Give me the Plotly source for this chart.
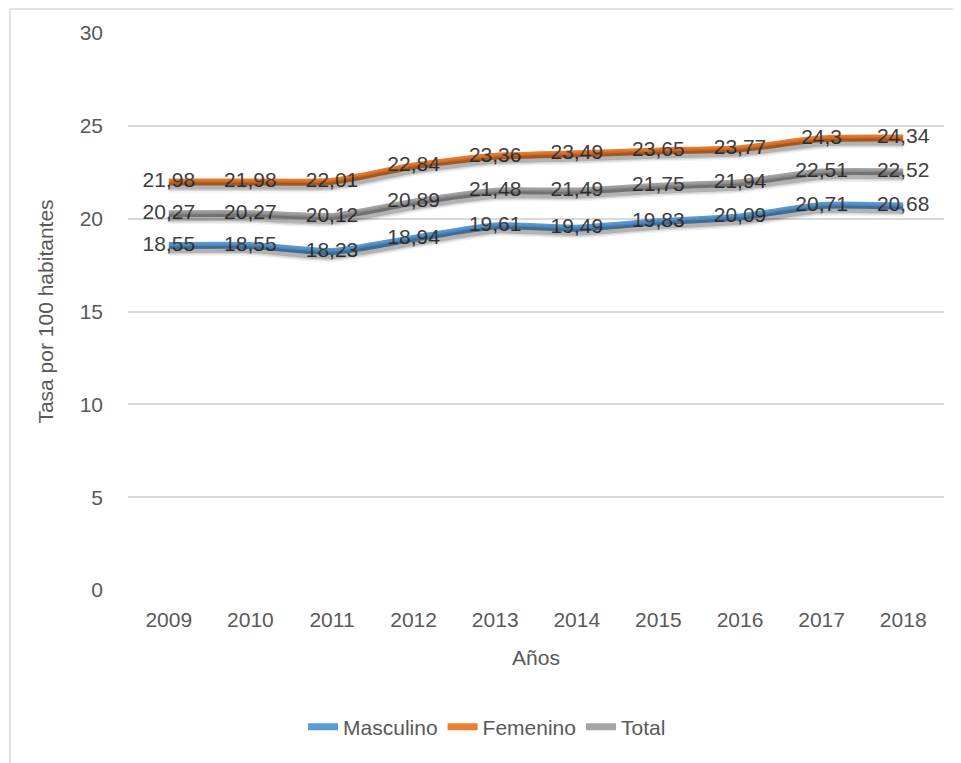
import plotly.graph_objects as go

years = ['2009', '2010', '2011', '2012', '2013', '2014', '2015', '2016', '2017', '2018']
masculino = [18.55, 18.55, 18.23, 18.94, 19.61, 19.49, 19.83, 20.09, 20.71, 20.68]
femenino = [21.98, 21.98, 22.01, 22.84, 23.36, 23.49, 23.65, 23.77, 24.3, 24.34]
total = [20.27, 20.27, 20.12, 20.89, 21.48, 21.49, 21.75, 21.94, 22.51, 22.52]

series = [
    ('Masculino', masculino, '#5B9BD5'),
    ('Femenino', femenino, '#ED7D31'),
    ('Total', total, '#A5A5A5'),
]

font_family = "Liberation Sans, Arial, sans-serif"
label_color = '#404040'
axis_color = '#595959'

fig = go.Figure()

# soft shadows under the lines (drawn on a slightly shifted overlay axis)
for name, vals, color in series:
    for w, a in [(13, 0.05), (10, 0.10), (7, 0.18)]:
        fig.add_trace(go.Scatter(
            x=years, y=vals, mode='lines',
            line=dict(color=f'rgba(0,0,0,{a})', width=w, shape='spline', smoothing=0.6),
            yaxis='y2', showlegend=False, hoverinfo='skip'
        ))

for name, vals, color in series:
    fig.add_trace(go.Scatter(
        x=years, y=vals, mode='lines', name=name,
        line=dict(color=color, width=7, shape='spline', smoothing=0.6),
    ))

# data labels on top of all lines
for name, vals, color in series:
    fig.add_trace(go.Scatter(
        x=years, y=vals, mode='text',
        text=[str(v).replace('.', ',') for v in vals],
        textposition='middle center',
        textfont=dict(family=font_family, size=21, color=label_color),
        showlegend=False, hoverinfo='skip'
    ))

# the page adds an 8px offset, so the figure is 8px smaller than the window
W, H = 953, 755
L, R, T, B = 120, 17, 25, 173
pw, ph = W - L - R, H - T - B

fig.update_layout(
    width=W, height=H,
    margin=dict(l=L, r=R, t=T, b=B),
    plot_bgcolor='white', paper_bgcolor='white',
    font=dict(family=font_family, size=21, color=axis_color),
    xaxis=dict(
        type='category', range=[-0.5, 9.5],
        showgrid=False, showline=False, zeroline=False,
        tickfont=dict(size=21, color=axis_color),
        ticks='', ticklabelstandoff=15,
        title=dict(text='Años', font=dict(size=21, color=axis_color), standoff=20),
    ),
    yaxis=dict(
        range=[0, 30], dtick=5,
        showgrid=True, gridcolor='#d9d9d9', gridwidth=1.5,
        zeroline=False, showline=False,
        tickfont=dict(size=21, color=axis_color),
        ticks='', ticklabelstandoff=24,
        title=dict(text='Tasa por 100 habitantes', font=dict(size=21, color=axis_color), standoff=20),
    ),
    yaxis2=dict(
        overlaying='y', range=[0.22, 30.22], visible=False,
    ),
    legend=dict(
        orientation='h', x=0.44, xanchor='center', y=-(727 - 8 - T - ph) / ph, yanchor='middle',
        font=dict(size=21, color=axis_color),
    ),
    shapes=[
        dict(type='line', xref='paper', yref='paper',
             x0=(2 - L) / pw, x1=(2 - L) / pw, y0=-B / ph - 0.01, y1=(ph + T - 1) / ph,
             line=dict(color='#d9d9d9', width=1.5)),
        dict(type='line', xref='paper', yref='paper',
             x0=(2 - L) / pw, x1=(W - L) / pw, y0=(ph + T - 1) / ph, y1=(ph + T - 1) / ph,
             line=dict(color='#d9d9d9', width=1.5)),
    ],
)

fig.write_html("out.html")
